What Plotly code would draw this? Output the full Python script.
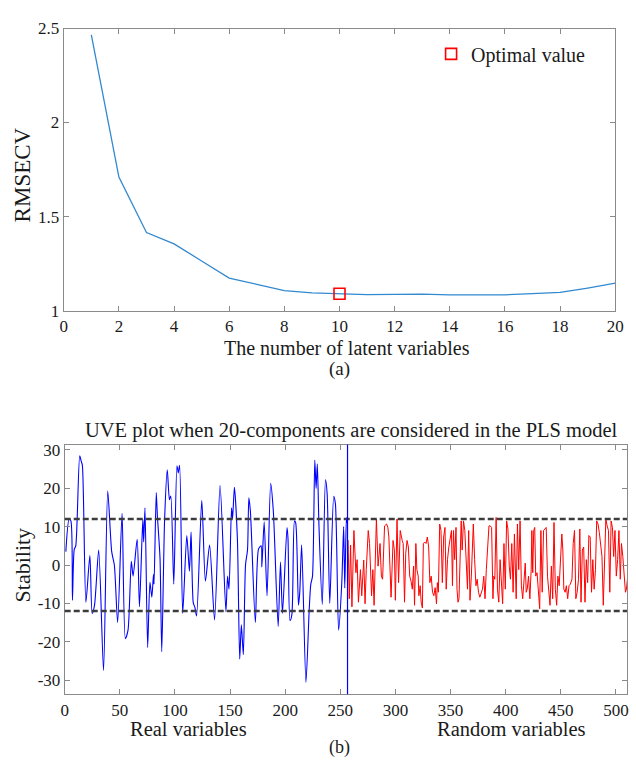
import plotly.graph_objects as go

# ---------------- data: panel (a) ----------------
n_lv = list(range(1, 21))
rmsecv = [2.466, 1.71, 1.415, 1.355, 1.264, 1.173, 1.14, 1.106, 1.094, 1.088,
          1.085, 1.086, 1.088, 1.084, 1.084, 1.084, 1.09, 1.097, 1.12, 1.146]
opt_lv = [10]
opt_rmsecv = [1.09]
a_xticks = list(range(0, 21, 2))
a_yticks = [1, 1.5, 2, 2.5]
a_yticklabels = ["1", "1.5", "2", "2.5"]

# ---------------- data: panel (b) ----------------
real_idx = [1, 4, 5.6, 7, 8.6, 10, 13.6, 15, 16, 19.2, 22.8, 24.9, 27, 30.8, 35.2, 39, 42.6, 45, 48,
            52, 55, 57.4, 60.4, 62, 65.7, 67.8, 70.8, 71.6, 72.8, 75.2, 77.3, 79, 80.5, 81, 83, 84,
            86.4, 88, 90.6, 93, 95, 96.2, 98.9, 101.8, 103, 104.2, 107, 110.7, 113.1, 114.6, 116.6,
            118, 119.6, 124.3, 127.6, 131.4, 135.9, 140.9, 146.2, 147.7, 149, 151.3, 152.2, 153.9,
            156.6, 158.7, 160.2, 162, 164, 165.8, 167, 168.4, 172.9, 175.8, 178.2, 178.8, 180.9,
            183.5, 186.8, 189.2, 193.6, 195.7, 197.5, 201.6, 202.5, 204.3, 206, 208.4, 209.5, 212,
            213.2, 214.9, 218.8, 221.7, 223.2, 224.7, 226.8, 228, 229.1, 230.6, 233.6, 236.5, 238,
            240.4, 244, 245.5, 248.4, 251.3, 253, 254, 255.5, 256]
real_val = [3.5, 12, 11.5, -9.2, 4, 5, 28.5, 27, 26, -9.7, 2.5, -12.6, -10.5, 3.9, -27.5, 19.3, 3.5, 0, -15,
            13.5, -19.2, -17, 1, -2.9, 6.7, -10.9, 12, 6, 14.9, -21.5, -4.5, -8.4, -2.5, -5, 18.9, 13,
            2, -22.6, 12, 24.8, 17, 18, -5, 25.9, 24, 26, -12.6, 7.7, -1.6, 8.6, -9.9,
            -11, -13.3, 16.9, -4.2, 5.2, -14.3, 20.8, -12.2, -2.9, -6.3, 14.9, 12, 20.3,
            6.9, -24.5, -15.6, -23.4, 0.1, 4, 17.5, 14, -15, 4.2, 5, -0.5, 11.3,
            -8, 21.3, 14.1, -16, 0.8, -12.6, 9.8, 7, -14.5, -13, 11.5, 11, -10.5,
            -7, 5.3, -30.6, -12, -5, -3, 27.4, 20, 26.4, 10.3, -10.3, 22.3, 18.7,
            -10, 17.9, 16, -17, -4.6, 10, -6, 12.4, 11]

rand_idx = [257, 258.1, 259.3, 260.5, 262.3, 264.1, 265.2, 266.4, 268.2, 269.4, 271.2, 272.4, 273.5,
            275.3, 276.5, 278.3, 279.5, 280.6, 282.7, 284.2, 286.0, 287.2, 288.3, 290.1, 291.9, 293.1,
            294.0, 296.0, 297.8, 299.0, 299.9, 301.4, 302.8, 304.3, 306.1,
            307.0, 308.2, 309.3, 310.5, 311.7, 312.9, 314.1, 315.3, 316.4, 317.3, 318.5, 319.4, 320.6,
            321.2, 322.4, 323.3, 324.4, 325.3, 326.5, 327.7, 328.9, 330.1, 331.2, 332.4, 333.6, 334.8,
            336.0, 337.2, 338.0, 338.9, 340.1, 341.3, 342.5, 343.7, 344.9, 346.0, 347.2, 348.4, 349.6,
            350.8, 351.7, 352.6, 353.7, 354.9, 355.8, 356.7,
            357.6, 358.8, 359.6, 360.5, 361.7, 362.9, 364.1, 365.3, 366.4, 367.6, 368.8, 370.0, 370.6,
            371.8, 373.0, 374.1, 375.3, 376.5, 377.7, 378.9, 380.1, 381.2, 382.4, 383.6, 384.8, 386.0,
            387.2, 388.4, 389.2, 390.1, 391.3, 392.5, 393.7, 394.9, 396.0, 397.2, 398.4, 399.6, 400.8,
            402.0, 403.2, 404.3, 405.5, 406.7, 407.9,
            409.5, 410.6, 411.8, 413.0, 414.2, 415.4, 416.6, 417.7, 418.6, 419.5, 420.7, 421.9, 423.1,
            423.7, 424.5, 425.4, 426.3, 427.2, 428.4, 429.6, 430.8, 431.9, 433.1, 434.3, 435.5, 436.7,
            437.9, 439.1, 440.2, 441.4, 442.6, 443.8, 445.0, 446.2, 447.3, 448.5, 449.7, 450.9, 451.8,
            452.7, 453.9, 455.0, 456.2, 457.4, 458.6,
            460.1, 461.2, 462.4, 463.6, 464.8, 466.0, 467.2, 468.3, 469.5, 470.7, 471.9, 473.1, 474.3,
            475.4, 476.6, 477.8, 479.0, 480.2, 481.4, 482.5, 483.7, 484.9, 486.1, 487.3, 488.5, 489.7,
            490.8, 492.0, 493.2, 494.4, 495.6, 496.8, 497.9, 499.1, 500.3, 501.5, 502.7, 503.9, 505.0,
            506.2, 507.4, 508.6, 509.5, 511, 512]
rand_val = [6.5, -8.8, 5.2, -10.9, 9.0, -2.0, 1.4, -9.7, -1.2, -8.0, 1.3, -10.1, -1.2,
            9.0, 5.6, -8.0, -1.2, -10.5, 12.0, -0.3, 5.6, -2.9, -3.7, 10.2, 10.7, 9.8,
            7.3, -8.4, 6.4, 3.9, -9.2, 12.0, -4.6, 9.0, 6.4,
            5.6, -9.7, 3.0, 6.4, 4.7, -2.9, -4.2, -6.3, -0.3, -10.5, 5.6, -1.2, -2.9,
            -8.0, -5.4, -9.7, -11.2, 5.6, 6.0, 5.6, 7.3, 4.7, -4.6, -2.9, -7.1, -8.0,
            -5.9, -10.1, -4.6, -7.1, 10.7, 9.0, -4.6, 7.3, 9.8, -6.3, 1.4, 4.7, 6.4,
            9.0, -5.4, 9.0, 1.4, 9.8, -6.3, -9.7,
            -8.8, 1.4, 11.5, 3.9, 11.5, 9.0, 3.0, -6.3, 9.0, -9.2, -2.9, 5.6, 10.7,
            1.4, -5.4, -3.7, -7.1, -8.4, -7.5, -6.3, -2.9, -8.8, -1.2, 5.6, 10.2, 10.2,
            9.8, -8.8, -2.9, -3.7, 12.4, -6.3, -9.7, 1.4, -3.7, -10.1, 5.6, -6.3, 11.5,
            9.4, -0.3, -3.7, 5.6, -7.1, 8.1,
            -8.8, 10.7, -1.2, 11.5, -5.4, -8.8, -2.0, 0.5, -7.1, -6.3, -2.9, -8.8, -1.2,
            9.0, -2.0, 9.0, 9.8, -2.9, -2.0, -8.0, -11.4, 9.0, -7.1, 9.0, 9.4, 9.8,
            -2.9, -7.1, -10.5, -0.3, -8.8, 11.1, -6.3, -10.5, -2.9, -5.4, 3.9, 8.1, 3.9,
            -6.3, -7.1, -5.4, -8.8, -5.4, -5.0,
            -3.7, 5.6, 9.0, -8.8, -7.1, -3.7, 9.4, -9.7, 3.9, 4.7, -9.7, 1.4, -4.6,
            7.7, 7.3, -7.1, 1.4, -6.3, -1.2, 11.5, 10.7, 8.5, 4.7, 2.2, -10.5, 1.4,
            12.0, 10.2, 9.0, -7.1, 11.5, 9.8, 2.2, 9.0, -2.9, 1.4, 9.0, -3.7, 5.6,
            2.2, -2.9, -7.1, -6.3, -2.0, 1.0]

cutoff = 12
split_at = 256.5
b_xticks = list(range(0, 501, 50))
b_yticks = [-30, -20, -10, 0, 10, 20, 30]
b_yticklabels = ["-30", "-20", "-10", "0", "10", "20", "30"]

# ---------------- figure ----------------
W, H = 636, 765
FONT = "Liberation Serif, Times New Roman, serif"
TXT = "#1a1a1a"
AX = "#8a8a8a"


def px_x(p):
    return p / W


def px_y(p):
    return 1 - p / H


fig = go.Figure()

fig.add_trace(go.Scatter(x=n_lv, y=rmsecv, mode="lines",
                         line=dict(color="#3189d0", width=1.3),
                         showlegend=False, xaxis="x", yaxis="y"))
fig.add_trace(go.Scatter(x=opt_lv, y=opt_rmsecv, mode="markers",
                         marker=dict(symbol="square-open", size=11, color="#ff0000",
                                     line=dict(width=1.6, color="#ff0000")),
                         name="Optimal value", showlegend=True, xaxis="x", yaxis="y"))

fig.add_trace(go.Scatter(x=real_idx, y=real_val, mode="lines",
                         line=dict(color="#0000ff", width=1.1, shape="spline", smoothing=0.7),
                         showlegend=False, xaxis="x2", yaxis="y2"))
fig.add_trace(go.Scatter(x=rand_idx, y=rand_val, mode="lines",
                         line=dict(color="#ff0000", width=1.0),
                         showlegend=False, xaxis="x2", yaxis="y2"))

for yv in (cutoff, -cutoff):
    fig.add_shape(type="line", xref="x2 domain", yref="y2", x0=0, x1=1, y0=yv, y1=yv,
                  line=dict(color="#3c3c3c", width=2.4, dash="6px,3px"))
fig.add_shape(type="line", xref="x2", yref="y2 domain", x0=split_at, x1=split_at, y0=0, y1=1,
              line=dict(color="#0000ff", width=1.2))

axis_common = dict(showline=True, linecolor=AX, linewidth=1, mirror="ticks",
                   ticks="inside", ticklen=5, tickcolor=AX, tickwidth=1,
                   showgrid=False, zeroline=False,
                   tickfont=dict(family=FONT, size=17, color=TXT))

fig.update_layout(
    width=W, height=H,
    margin=dict(l=0, r=0, t=0, b=0),
    paper_bgcolor="white", plot_bgcolor="white",
    font=dict(family=FONT, color=TXT),
    xaxis=dict(domain=[px_x(61), px_x(624)], range=[0, 20], tickvals=a_xticks,
               anchor="y", **axis_common),
    yaxis=dict(domain=[px_y(309.3), px_y(20)], range=[1, 2.5], tickvals=a_yticks,
               ticktext=a_yticklabels, anchor="x", **axis_common),
    xaxis2=dict(domain=[px_x(62), px_x(636)], range=[0, 510], tickvals=b_xticks,
                anchor="y2", **axis_common),
    yaxis2=dict(domain=[px_y(702.7), px_y(446.7)], range=[-33.7, 31.4], tickvals=b_yticks,
                ticktext=b_yticklabels, anchor="x2", **axis_common),
    legend=dict(x=px_x(436), y=px_y(46), xanchor="left", yanchor="middle",
                bgcolor="rgba(0,0,0,0)", font=dict(family=FONT, size=20, color=TXT),
                itemwidth=30),
)

ann = [
    ("The number of latent variables", 350, 348, 20, 0),
    ("(a)", 343, 369, 19, 0),
    ("RMSECV", 19, 170, 23, -90),
    ("UVE plot when 20-components are considered in the PLS model", 355, 432, 20.5, 0),
    ("Stability", 19, 570, 22, -90),
    ("Real variables", 188, 738, 20.5, 0),
    ("Random variables", 518, 738, 20.5, 0),
    ("(b)", 343, 757, 18, 0),
]
for text, x, y, size, ang in ann:
    fig.add_annotation(text=text, xref="paper", yref="paper", x=px_x(x), y=px_y(y),
                       xanchor="center", yanchor="middle", showarrow=False, textangle=ang,
                       font=dict(family=FONT, size=size, color=TXT))

fig.write_html("out.html")
